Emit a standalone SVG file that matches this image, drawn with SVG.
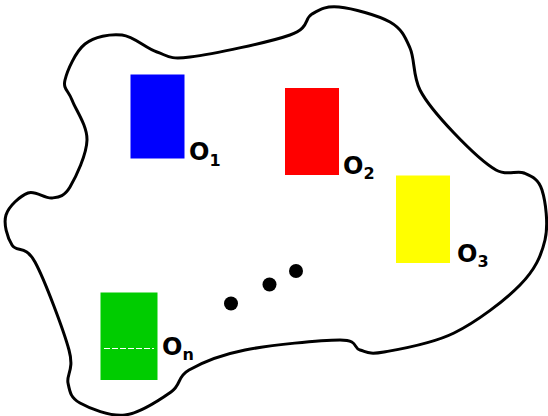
<svg xmlns="http://www.w3.org/2000/svg" width="548" height="416" viewBox="0 0 548 416">
<style>
.lbl{font-family:"DejaVu Sans","Liberation Sans",sans-serif;font-weight:bold;font-size:24px;fill:#000}
.sub{font-size:16px}
.obj{stroke:none}
</style>
<rect x="0" y="0" width="548" height="416" fill="#fff"/>
<g id="set">
<path d="M65,80 C67.2,70.7 75.5,51.5 85,44 C94.5,36.5 110,33.7 122,35 C134,36.3 145.7,48.3 157,52 C168.3,55.7 167.8,59.8 190,57 C212.2,54.2 269.7,42.2 290,35 C310.3,27.8 303.8,18.7 312,14 C320.2,9.3 326,5.7 339,7 C352,8.3 378.2,15.2 390,22 C401.8,28.8 405,36.7 410,48 C415,59.3 412.7,75.8 420,90 C427.3,104.2 441.3,119.7 454,133 C466.7,146.3 484.3,163.3 496,170 C507.7,176.7 516.3,169.7 524,173 C531.7,176.3 538.5,178.8 542,190 C545.5,201.2 548.7,224.2 545,240 C541.3,255.8 535.2,269.5 520,285 C504.8,300.5 476.7,321.8 454,333 C431.3,344.2 399.7,349.2 384,352 C368.3,354.8 367.3,352 360,350 C352.7,348 359.2,340 340,340 C320.8,340 270.2,345 245,350 C219.8,355 201.3,363 189,370 C176.7,377 181.7,384.5 171,392 C160.3,399.5 140.2,413.2 125,415 C109.8,416.8 89.5,408.3 80,403 C70.5,397.7 69.8,391.8 68,383 C66.2,374.2 74.5,370.2 69,350 C63.5,329.8 44.5,279.5 35,262 C25.5,244.5 16.8,252.8 12,245 C7.2,237.2 3.3,223.7 6,215 C8.7,206.3 20.3,195.8 28,193 C35.7,190.2 45,199 52,198 C59,197 64.2,196.7 70,187 C75.8,177.3 86.7,154.5 87,140 C87.3,125.5 75.7,110 72,100 C68.3,90 62.8,89.3 65,80 Z" fill="none" stroke="#000" stroke-width="3"/>
</g>
<g id="o1">
<rect class="obj" x="130.5" y="74.5" width="54" height="84" fill="#0000ff"/>
<text class="lbl" x="189" y="160">O<tspan class="sub" dy="6">1</tspan></text>
</g>
<g id="o2">
<rect class="obj" x="285" y="88" width="54" height="87" fill="#ff0000"/>
<text class="lbl" x="343" y="173.5">O<tspan class="sub" dy="5">2</tspan></text>
</g>
<g id="o3">
<rect class="obj" x="396" y="175.5" width="54" height="87.5" fill="#ffff00"/>
<text class="lbl" x="457" y="261.5">O<tspan class="sub" dy="5">3</tspan></text>
</g>
<g id="on">
<rect class="obj" x="100.5" y="292.5" width="57" height="87.5" fill="#00cc00"/>
<line x1="104" y1="348.5" x2="154" y2="348.5" stroke="#fff" stroke-width="1" stroke-dasharray="6,2"/>
<text class="lbl" x="162" y="354.5">O<tspan class="sub" dy="5">n</tspan></text>
</g>
<g id="ellipsis">
<circle cx="231" cy="303.5" r="7"/>
<circle cx="269.5" cy="284.5" r="7"/>
<circle cx="296" cy="271" r="7"/>
</g>
</svg>
